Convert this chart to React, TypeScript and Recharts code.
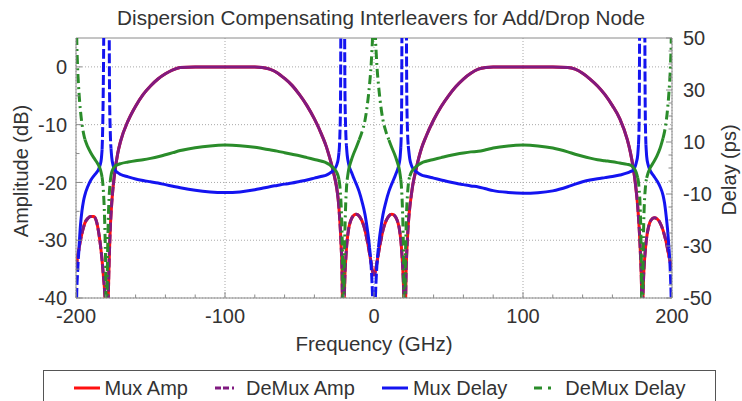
import React from "react";
import { LineChart, Line, XAxis, YAxis, CartesianGrid, ReferenceLine } from "recharts";

// frequency grid (GHz), denser around the nulls and delay poles
const freq = [
  -200, -199.5, -199, -198, -197, -196, -195, -194, -192, -190, -188, -186, -185, -184, -183, -182.5, -182,
  -181.5, -181, -180.5, -180, -179.5, -179, -178.5, -178, -177.5, -177, -176.5, -176, -175, -174, -172, -170,
  -165, -160, -155, -150, -145, -140, -135, -130, -120, -110, -100,
  -90, -80, -75, -70, -65, -60, -55, -50, -45, -40, -35,
  -32, -30, -28, -26, -25, -24, -23.5, -23, -22.5, -22, -21.5, -21, -20.5, -20, -19.5, -19, -18.5,
  -18, -17, -16, -15, -14, -12, -10, -8, -6, -5, -4, -3, -2, -1.5, -1, -0.5, 0,
  0.5, 1, 1.5, 2, 3, 4, 5, 6, 8, 10, 12, 14, 15, 16, 17, 17.5,
  18, 18.5, 19, 19.5, 20, 20.5, 21, 21.5, 22, 22.5, 23, 24, 25, 26, 28, 30, 32,
  35, 40, 45, 50, 55, 60, 65, 70, 75, 80, 90,
  100, 110, 120, 130, 135, 140, 145, 150, 155, 160, 165,
  170, 172, 174, 175, 176, 177, 177.5, 178, 178.5, 179, 179.5, 180, 180.5, 181, 181.5, 182,
  182.5, 183, 184, 185, 186, 188, 190, 192, 194, 195, 196, 197, 198, 199, 199.5, 200,
];

// amplitude (dB)
const muxAmp = [
  -35, -34, -33, -31.5, -30, -28.8, -27.8, -27, -26.2, -25.9, -25.9, -27, -28.3, -30, -32.2, -33.5, -35,
  -36.5, -38, -40, -42, -46, -50, -42, -36, -31.5, -28, -25.5, -23.5, -20.5, -18.3, -15, -12.8,
  -9.3, -6.8, -4.8, -3.3, -2.1, -1.2, -0.5, -0.1, 0, 0, 0,
  0, 0, -0.1, -0.4, -1, -2, -3.2, -4.8, -6.7, -9, -11.8,
  -13.8, -15.5, -17.4, -19.6, -21, -23, -24.5, -26.3, -28.5, -31.3, -35, -45, -50, -41, -36, -33.5, -31.5,
  -30, -28, -26.9, -26.2, -25.8, -25.5, -25.8, -26.7, -28.3, -29.5, -30.8, -32.3, -33.8, -34.6, -35.3, -35.8, -36,
  -35.8, -35.3, -34.6, -33.8, -32.3, -30.8, -29.5, -28.3, -26.7, -25.8, -25.5, -25.8, -26.2, -26.9, -28, -28.9,
  -30, -31.5, -33.5, -36, -40, -50, -45, -36, -32, -29.5, -27.3, -24.3, -22.3, -20.5, -18, -15.8, -14,
  -12, -9.2, -6.9, -5, -3.4, -2.1, -1.1, -0.4, -0.1, 0, 0,
  0, 0, 0, -0.1, -0.4, -1.1, -2.1, -3.3, -4.8, -6.7, -9,
  -12.6, -14.7, -17.5, -19.3, -21.5, -24.2, -26, -28, -30.5, -33.5, -37.5, -48, -40, -36, -33.7, -32,
  -30.6, -29.5, -28, -27, -26.5, -26.1, -26.3, -27, -28.3, -29.2, -30.2, -31.5, -32.8, -34, -34.5, -35,
];
// the DeMux amplitude trace lies on top of the Mux one
const demuxAmp = muxAmp;

// group delay (ps)
const muxDelay = [
  -80, -48, -41, -31, -22, -16.5, -12.8, -10.3, -7, -4.6, -3, -1.6, -0.7, 0.8, 3.5, 7, 18,
  42, 85, 95, 95, 95, 95, 95, 85, 30, 14, 7.5, 4, 0.8, -0.6, -1.8, -2.5,
  -3.4, -4.2, -4.8, -5.3, -5.8, -6.4, -7, -7.6, -8.6, -9.2, -9.4,
  -9.2, -8.4, -7.8, -7.2, -6.7, -6.2, -5.8, -5.2, -4.6, -3.9, -3.2,
  -2.7, -2.1, -1.3, 0, 1.2, 3.5, 6, 11, 24, 85, 95, 95, 95, 85, 30, 15, 8.5,
  5, 1.5, -0.5, -1.8, -3.3, -6, -9, -13, -18, -21.5, -25.5, -30.5, -37, -42, -49, -60, -90,
  -60, -49, -42, -37, -30.5, -25.5, -21.5, -18, -13, -9, -6, -3.3, -1.8, -0.3, 2, 4,
  8, 20, 85, 95, 95, 95, 95, 85, 28, 14, 8.5, 3.5, 1.2, -0.1, -1.3, -2.1, -2.7,
  -3.2, -3.9, -4.6, -5.3, -5.9, -6.4, -6.9, -7.3, -8, -8.7, -9.4,
  -9.7, -9.5, -8.8, -7.2, -6.2, -5.3, -4.6, -4.1, -3.7, -3.3, -2.7,
  -1.9, -1.4, -0.8, 0.2, 2, 5, 9, 20, 85, 95, 95, 95, 95, 95, 85, 25,
  9, 4.5, 1.2, -0.5, -1.6, -3.3, -5, -7.2, -10.5, -13.5, -18, -23.5, -31, -42, -52, -80,
];

const demuxDelay = [
  80, 50, 40, 29, 22, 17, 13.5, 11, 8, 5.8, 3.9, 2.2, 1.2, 0, -2, -3.5, -6,
  -10, -16, -26, -42, -80, -42, -24, -14, -8.5, -5, -3, -1.6, -0.2, 0.6, 1.3, 1.7,
  2.3, 2.8, 3.2, 3.7, 4.3, 5.1, 5.9, 6.7, 7.8, 8.5, 8.8,
  8.6, 8, 7.5, 7, 6.5, 5.9, 5.3, 4.7, 4, 3.3, 2.6,
  2, 1.3, 0.4, -0.8, -1.7, -3.2, -4.5, -6.5, -10, -15, -24, -40, -80, -40, -24, -14, -8,
  -4.5, -0.6, 1.6, 3.4, 5, 7.8, 10.8, 14, 18.5, 22, 26.5, 32, 39, 44, 50, 62, 90,
  62, 50, 44, 39, 32, 26.5, 22, 18.5, 14, 10.8, 7.8, 5, 3.4, 1.6, -0.6, -2.4,
  -4.5, -8, -14, -24, -40, -80, -40, -24, -15, -10, -6.5, -3.2, -1.7, -0.8, 0.4, 1.3, 2,
  2.6, 3.3, 4, 4.7, 5.3, 5.8, 6.2, 6.4, 7, 7.7, 8.5,
  8.8, 8.5, 7.7, 6.2, 5.3, 4.5, 3.8, 3.2, 2.8, 2.4, 1.9,
  1.4, 1.1, 0.3, -0.5, -1.7, -3.8, -5.5, -8.5, -13, -22, -40, -80, -40, -22, -13, -8.5,
  -5.5, -3.8, -1.8, -0.4, 0.7, 2.6, 4.8, 7.6, 11.5, 14, 17.5, 22.5, 29.5, 40, 50, 80,
];

// labelled ticks, and the small unlabelled ones between them
const freqTicks = [-200, -100, 0, 100, 200];
const freqMinorTicks = [-180, -160, -140, -120, -80, -60, -40, -20, 20, 40, 60, 80, 120, 140, 160, 180];
const ampTicks = [-40, -30, -20, -10, 0];
const ampMinorTicks = [-35, -25, -15, -5];
const delayTicks = [-50, -30, -10, 10, 30, 50];
const delayMinorTicks = [-45, -40, -35, -25, -20, -15, -5, 0, 5, 15, 20, 25, 35, 40, 45];

const RED = "#ff1010";
const PURPLE = "#801a80";
const BLUE = "#1414f0";
const GREEN = "#2a8c2a";
const TEXT = "#333";
const FRAME = "#8a8a8a";
const FONT_SIZE = 20;
const MAJOR_LEN = 6;
const MINOR_LEN = 3.5;
const X_GAP = 11;
const LEFT_GAP = 9;
const RIGHT_GAP = 11;

// split a trace into its gentle part (drawn solid) and its steep part (drawn with the dash style)
function splitSteep(values: number[], steep: (v: number) => boolean) {
  const segSteep = (i: number) => steep(values[i]) || steep(values[i + 1]);
  const flat: (number | null)[] = [];
  const jump: (number | null)[] = [];
  for (let i = 0; i < values.length; i++) {
    const left = i > 0 ? segSteep(i - 1) : null;
    const right = i < values.length - 1 ? segSteep(i) : null;
    flat.push(left === false || right === false ? values[i] : null);
    jump.push(left === true || right === true ? values[i] : null);
  }
  return [flat, jump];
}

const [demuxAmpFlat, demuxAmpJump] = splitSteep(demuxAmp, (v) => v < -23);
const [muxDelayFlat, muxDelayJump] = splitSteep(muxDelay, (v) => v > 10 || v < -32);
const [demuxDelayFlat, demuxDelayJump] = splitSteep(demuxDelay, (v) => v > 12 || v < -5);

const data = freq.map((f, i) => ({
  f,
  muxAmp: muxAmp[i],
  demuxAmpFlat: demuxAmpFlat[i],
  demuxAmpJump: demuxAmpJump[i],
  muxDelayFlat: muxDelayFlat[i],
  muxDelayJump: muxDelayJump[i],
  demuxDelayFlat: demuxDelayFlat[i],
  demuxDelayJump: demuxDelayJump[i],
}));

const legendItems = [
  { name: "Mux Amp", color: RED, dash: undefined },
  { name: "DeMux Amp", color: PURPLE, dash: "6 2 6 3 2 8" },
  { name: "Mux Delay", color: BLUE, dash: undefined },
  { name: "DeMux Delay", color: GREEN, dash: "8 6 3 12" },
];

const sorted = (a: number[], b: number[]) => [...a, ...b].sort((p, q) => p - q);

function FreqTick(props: any) {
  const { x, y, payload } = props;
  const major = freqTicks.includes(payload.value);
  const y0 = y - X_GAP;
  return (
    <g>
      <line x1={x} y1={y0} x2={x} y2={y0 - (major ? MAJOR_LEN : MINOR_LEN)} stroke={FRAME} />
      {major && (
        <text x={x} y={y} dy="0.71em" textAnchor="middle" fontSize={FONT_SIZE} fill={TEXT}>
          {payload.value}
        </text>
      )}
    </g>
  );
}

function AmpTick(props: any) {
  const { x, y, payload } = props;
  const major = ampTicks.includes(payload.value);
  const x0 = x + LEFT_GAP;
  return (
    <g>
      <line x1={x0} y1={y} x2={x0 + (major ? MAJOR_LEN : MINOR_LEN)} y2={y} stroke={FRAME} />
      {major && (
        <text x={x} y={y} dy="0.355em" textAnchor="end" fontSize={FONT_SIZE} fill={TEXT}>
          {payload.value}
        </text>
      )}
    </g>
  );
}

function DelayTick(props: any) {
  const { x, y, payload } = props;
  const major = delayTicks.includes(payload.value);
  const x0 = x - RIGHT_GAP;
  return (
    <g>
      <line x1={x0} y1={y} x2={x0 - (major ? MAJOR_LEN : MINOR_LEN)} y2={y} stroke={FRAME} />
      {major && (
        <text x={x} y={y} dy="0.355em" textAnchor="start" fontSize={FONT_SIZE} fill={TEXT}>
          {payload.value}
        </text>
      )}
    </g>
  );
}

const lineProps = { type: "monotone" as const, strokeWidth: 3, dot: false, activeDot: false, isAnimationActive: false };

export default function App() {
  return (
    <div
      style={{
        position: "absolute",
        left: 0,
        top: 0,
        width: 742,
        height: 401,
        overflow: "hidden",
        background: "#fff",
        fontFamily: "'Liberation Sans', Arial, sans-serif",
        color: TEXT,
      }}
    >
      <div style={{ position: "absolute", left: 381, top: 8, transform: "translateX(-50%)", whiteSpace: "nowrap", fontSize: 20.7, lineHeight: 1 }}>
        Dispersion Compensating Interleavers for Add/Drop Node
      </div>

      <LineChart width={742} height={401} data={data} margin={{ top: 38, right: 10, bottom: 73, left: 16 }}>
        <CartesianGrid
          yAxisId="amp"
          stroke="#a8a8a8"
          strokeDasharray="1 2"
          horizontalValues={ampTicks}
          verticalValues={freqTicks}
        />
        <XAxis
          dataKey="f"
          type="number"
          domain={[-200, 200]}
          ticks={sorted(freqTicks, freqMinorTicks)}
          interval={0}
          allowDataOverflow
          height={30}
          tickSize={0}
          tickMargin={X_GAP}
          tickLine={false}
          stroke={FRAME}
          tick={<FreqTick />}
        />
        <YAxis
          yAxisId="amp"
          orientation="left"
          domain={[-40, 5]}
          ticks={sorted(ampTicks, ampMinorTicks)}
          interval={0}
          allowDataOverflow
          width={60}
          tickSize={0}
          tickMargin={LEFT_GAP}
          tickLine={false}
          stroke={FRAME}
          tick={<AmpTick />}
        />
        <YAxis
          yAxisId="delay"
          orientation="right"
          domain={[-50, 50]}
          ticks={sorted(delayTicks, delayMinorTicks)}
          interval={0}
          allowDataOverflow
          width={60}
          tickSize={0}
          tickMargin={RIGHT_GAP}
          tickLine={false}
          stroke={FRAME}
          tick={<DelayTick />}
        />
        <ReferenceLine yAxisId="amp" y={5} stroke={FRAME} />

        <Line yAxisId="amp" dataKey="muxAmp" stroke={RED} {...lineProps} />
        <Line yAxisId="amp" dataKey="demuxAmpFlat" stroke={PURPLE} {...lineProps} />
        <Line yAxisId="amp" dataKey="demuxAmpJump" stroke={PURPLE} strokeDasharray="9 3" {...lineProps} />
        <Line yAxisId="delay" dataKey="muxDelayFlat" stroke={BLUE} {...lineProps} />
        <Line yAxisId="delay" dataKey="muxDelayJump" stroke={BLUE} strokeDasharray="10 3" {...lineProps} />
        <Line yAxisId="delay" dataKey="demuxDelayFlat" stroke={GREEN} {...lineProps} />
        <Line yAxisId="delay" dataKey="demuxDelayJump" stroke={GREEN} strokeDasharray="9 4 2 4" {...lineProps} />
      </LineChart>

      <div style={{ position: "absolute", left: 21, top: 171, transform: "translate(-50%, -50%) rotate(-90deg)", whiteSpace: "nowrap", fontSize: FONT_SIZE, lineHeight: 1 }}>
        Amplitude (dB)
      </div>
      <div style={{ position: "absolute", left: 729, top: 170, transform: "translate(-50%, -50%) rotate(-90deg)", whiteSpace: "nowrap", fontSize: FONT_SIZE, lineHeight: 1 }}>
        Delay (ps)
      </div>
      <div style={{ position: "absolute", left: 374, top: 334, transform: "translateX(-50%)", whiteSpace: "nowrap", fontSize: 20.5, lineHeight: 1 }}>
        Frequency (GHz)
      </div>

      <div
        style={{
          position: "absolute",
          left: 43,
          top: 370,
          width: 673,
          height: 40,
          border: "1px solid #555",
          boxSizing: "border-box",
          display: "flex",
          justifyContent: "center",
          alignItems: "flex-start",
          gap: 27,
          paddingTop: 7,
          fontSize: FONT_SIZE,
          lineHeight: 1,
        }}
      >
        {legendItems.map((item) => (
          <div key={item.name} style={{ display: "flex", alignItems: "center", gap: 5 }}>
            <svg width={26} height={10}>
              <line x1={0} y1={5} x2={26} y2={5} stroke={item.color} strokeWidth={3} strokeDasharray={item.dash} />
            </svg>
            <span>{item.name}</span>
          </div>
        ))}
      </div>
    </div>
  );
}
